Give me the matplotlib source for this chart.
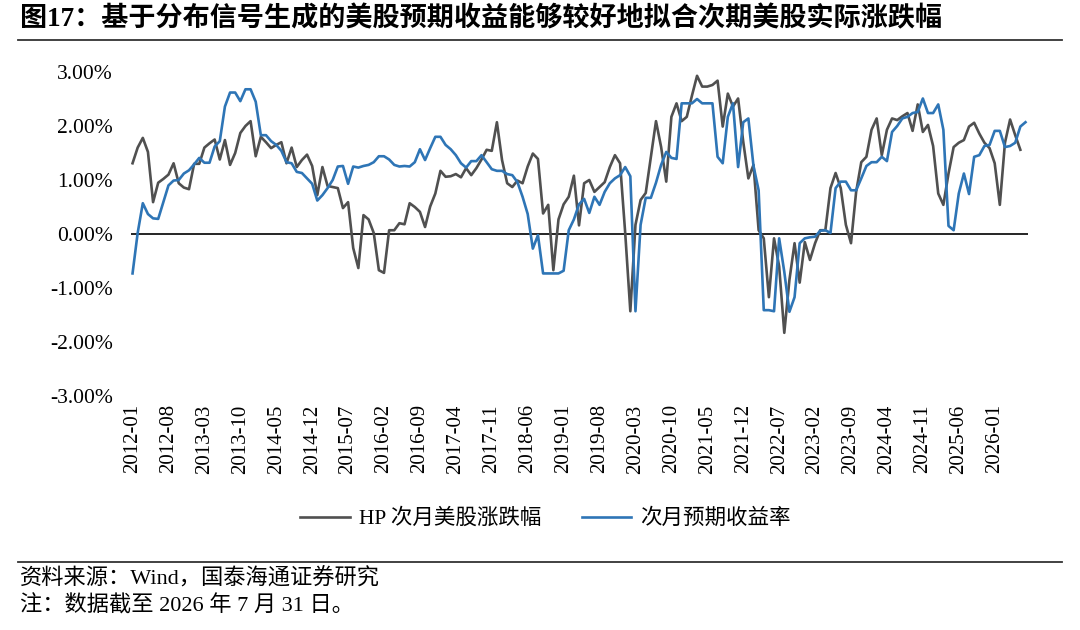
import matplotlib
matplotlib.use("Agg")
import matplotlib.pyplot as plt
import pandas as pd

plt.rcParams['font.family'] = ['Liberation Serif', 'Noto Sans CJK SC']
plt.rcParams['axes.unicode_minus'] = False

# 月度数据：2012-01 ~ 2026-07
months = pd.period_range('2012-01', '2026-07', freq='M').strftime('%Y-%m').tolist()

# HP 次月美股涨跌幅（%），最后一个月尚无实际值
hp_next = [
    1.31, 1.60, 1.78, 1.52, 0.59, 0.95, 1.02, 1.10, 1.31, 0.94,
    0.86, 0.83, 1.30, 1.30, 1.60, 1.68, 1.75, 1.38, 1.74, 1.28,
    1.50, 1.87, 2.00, 2.09, 1.44, 1.80, 1.70, 1.59, 1.65, 1.70,
    1.31, 1.60, 1.24, 1.37, 1.47, 1.26, 0.72, 1.24, 0.89, 0.87,
    0.85, 0.48, 0.59, -0.26, -0.63, 0.35, 0.27, 0.02, -0.67, -0.72,
    0.07, 0.07, 0.20, 0.18, 0.57, 0.50, 0.41, 0.13, 0.51, 0.75,
    1.17, 1.06, 1.07, 1.11, 1.05, 1.22, 1.09, 1.22, 1.38, 1.56,
    1.54, 2.07, 1.37, 0.94, 0.87, 0.99, 0.94, 1.25, 1.49, 1.39,
    0.38, 0.54, -0.67, 0.27, 0.55, 0.69, 1.08, 0.16, 0.94, 1.00,
    0.78, 0.87, 0.96, 1.24, 1.46, 1.31, 0.02, -1.43, 0.17, 0.63,
    0.76, 1.43, 2.09, 1.61, 0.97, 2.17, 2.42, 2.09, 2.17, 2.56,
    2.93, 2.73, 2.73, 2.76, 2.84, 1.99, 2.60, 2.36, 2.51, 1.71,
    1.03, 1.28, 0.07, -0.08, -1.17, -0.08, -0.60, -1.83, -0.85, -0.17,
    -0.90, -0.15, -0.48, -0.17, 0.07, 0.07, 0.85, 1.13, 0.85, 0.17,
    -0.17, 0.78, 1.33, 1.43, 1.93, 2.14, 1.46, 1.93, 2.14, 2.11,
    2.18, 2.24, 1.91, 2.40, 1.89, 2.02, 1.63, 0.75, 0.54, 1.12,
    1.61, 1.69, 1.74, 1.99, 2.06, 1.86, 1.69, 1.59, 1.31, 0.54,
    1.69, 2.12, 1.83, 1.56,
]

# 次月预期收益率（%）
exp_next = [
    -0.73, 0.02, 0.57, 0.37, 0.29, 0.28, 0.59, 0.90, 0.99, 1.00,
    1.12, 1.18, 1.29, 1.41, 1.32, 1.32, 1.62, 1.72, 2.36, 2.62,
    2.62, 2.46, 2.68, 2.68, 2.45, 1.83, 1.83, 1.72, 1.65, 1.54,
    1.33, 1.31, 1.15, 1.13, 1.03, 0.93, 0.62, 0.72, 0.85, 1.00,
    1.25, 1.26, 0.93, 1.25, 1.23, 1.26, 1.28, 1.33, 1.44, 1.44,
    1.38, 1.28, 1.25, 1.26, 1.25, 1.33, 1.57, 1.37, 1.59, 1.80,
    1.80, 1.65, 1.57, 1.46, 1.31, 1.23, 1.35, 1.35, 1.46, 1.33,
    1.20, 1.17, 1.17, 1.11, 1.09, 0.96, 0.69, 0.37, -0.27, -0.02,
    -0.73, -0.73, -0.73, -0.73, -0.68, 0.07, 0.27, 0.55, 0.65, 0.39,
    0.69, 0.54, 0.78, 0.94, 1.03, 1.09, 1.24, 1.07, -1.43, 0.17,
    0.67, 0.67, 0.95, 1.28, 1.52, 1.41, 1.39, 2.42, 2.42, 2.42,
    2.50, 2.42, 2.42, 2.42, 1.43, 1.31, 2.17, 2.42, 1.24, 2.07,
    2.14, 1.26, 0.81, -1.41, -1.41, -1.43, -0.08, -0.70, -1.44, -1.17,
    -0.17, -0.08, -0.06, -0.05, 0.06, 0.07, 0.02, 0.85, 0.97, 0.97,
    0.81, 0.81, 1.03, 1.26, 1.33, 1.33, 1.43, 1.35, 1.89, 2.00,
    2.14, 2.17, 2.24, 2.26, 2.51, 2.24, 2.24, 2.40, 1.93, 0.15,
    0.07, 0.75, 1.12, 0.74, 1.43, 1.46, 1.63, 1.65, 1.91, 1.91,
    1.61, 1.63, 1.69, 1.99, 2.07,
]

y_ticks = [-3, -2, -1, 0, 1, 2, 3]
title = '图17：基于分布信号生成的美股预期收益能够较好地拟合次期美股实际涨跌幅'
source = '资料来源：Wind，国泰海通证券研究'
note = '注：数据截至 2026 年 7 月 31 日。'

fig = plt.figure(figsize=(10.8, 6.3), dpi=100)
ax = fig.add_axes([0.1213, 0.3714, 0.8306, 0.5143])

x_hp = list(range(len(hp_next)))
x_exp = list(range(len(exp_next)))
ax.plot(x_hp, hp_next, color='#505050', lw=1.9, label='HP 次月美股涨跌幅')
ax.plot(x_exp, exp_next, color='#2e75b6', lw=1.9, label='次月预期收益率')
ax.axhline(0, color='black', lw=1.2, zorder=1)

ax.set_xlim(-0.3, 174.5)
ax.set_ylim(-3, 3)
ax.set_yticks(y_ticks)
ax.set_yticklabels([f'{v:.2f}%' for v in y_ticks], fontsize=15.5)
tick_pos = list(range(0, len(months), 7))
ax.set_xticks(tick_pos)
ax.set_xticklabels([months[i] for i in tick_pos], rotation=90, fontsize=15)
ax.tick_params(axis='y', length=0, pad=13)
ax.tick_params(axis='x', length=0, pad=6)
for s in ax.spines.values():
    s.set_visible(False)

fig.legend(loc='center', bbox_to_anchor=(0.505, 1 - 519 / 630), ncol=2,
           frameon=False, fontsize=15.5, handlelength=2.3, handletextpad=0.4,
           columnspacing=1.9)

fig.text(20 / 1080, 1 - 19 / 630, title, fontsize=19.5, fontweight='bold',
         va='center', ha='left')
fig.add_artist(plt.Line2D([18 / 1080, 1062 / 1080], [1 - 39.5 / 630] * 2,
                          color='#333333', lw=1.3))
fig.add_artist(plt.Line2D([18 / 1080, 1062 / 1080], [1 - 562 / 630] * 2,
                          color='#333333', lw=1.3))
fig.text(20 / 1080, 1 - 579 / 630, source, fontsize=16, va='center', ha='left')
fig.text(20 / 1080, 1 - 606 / 630, note, fontsize=16, va='center', ha='left')

fig.savefig('out.png', dpi=100)
